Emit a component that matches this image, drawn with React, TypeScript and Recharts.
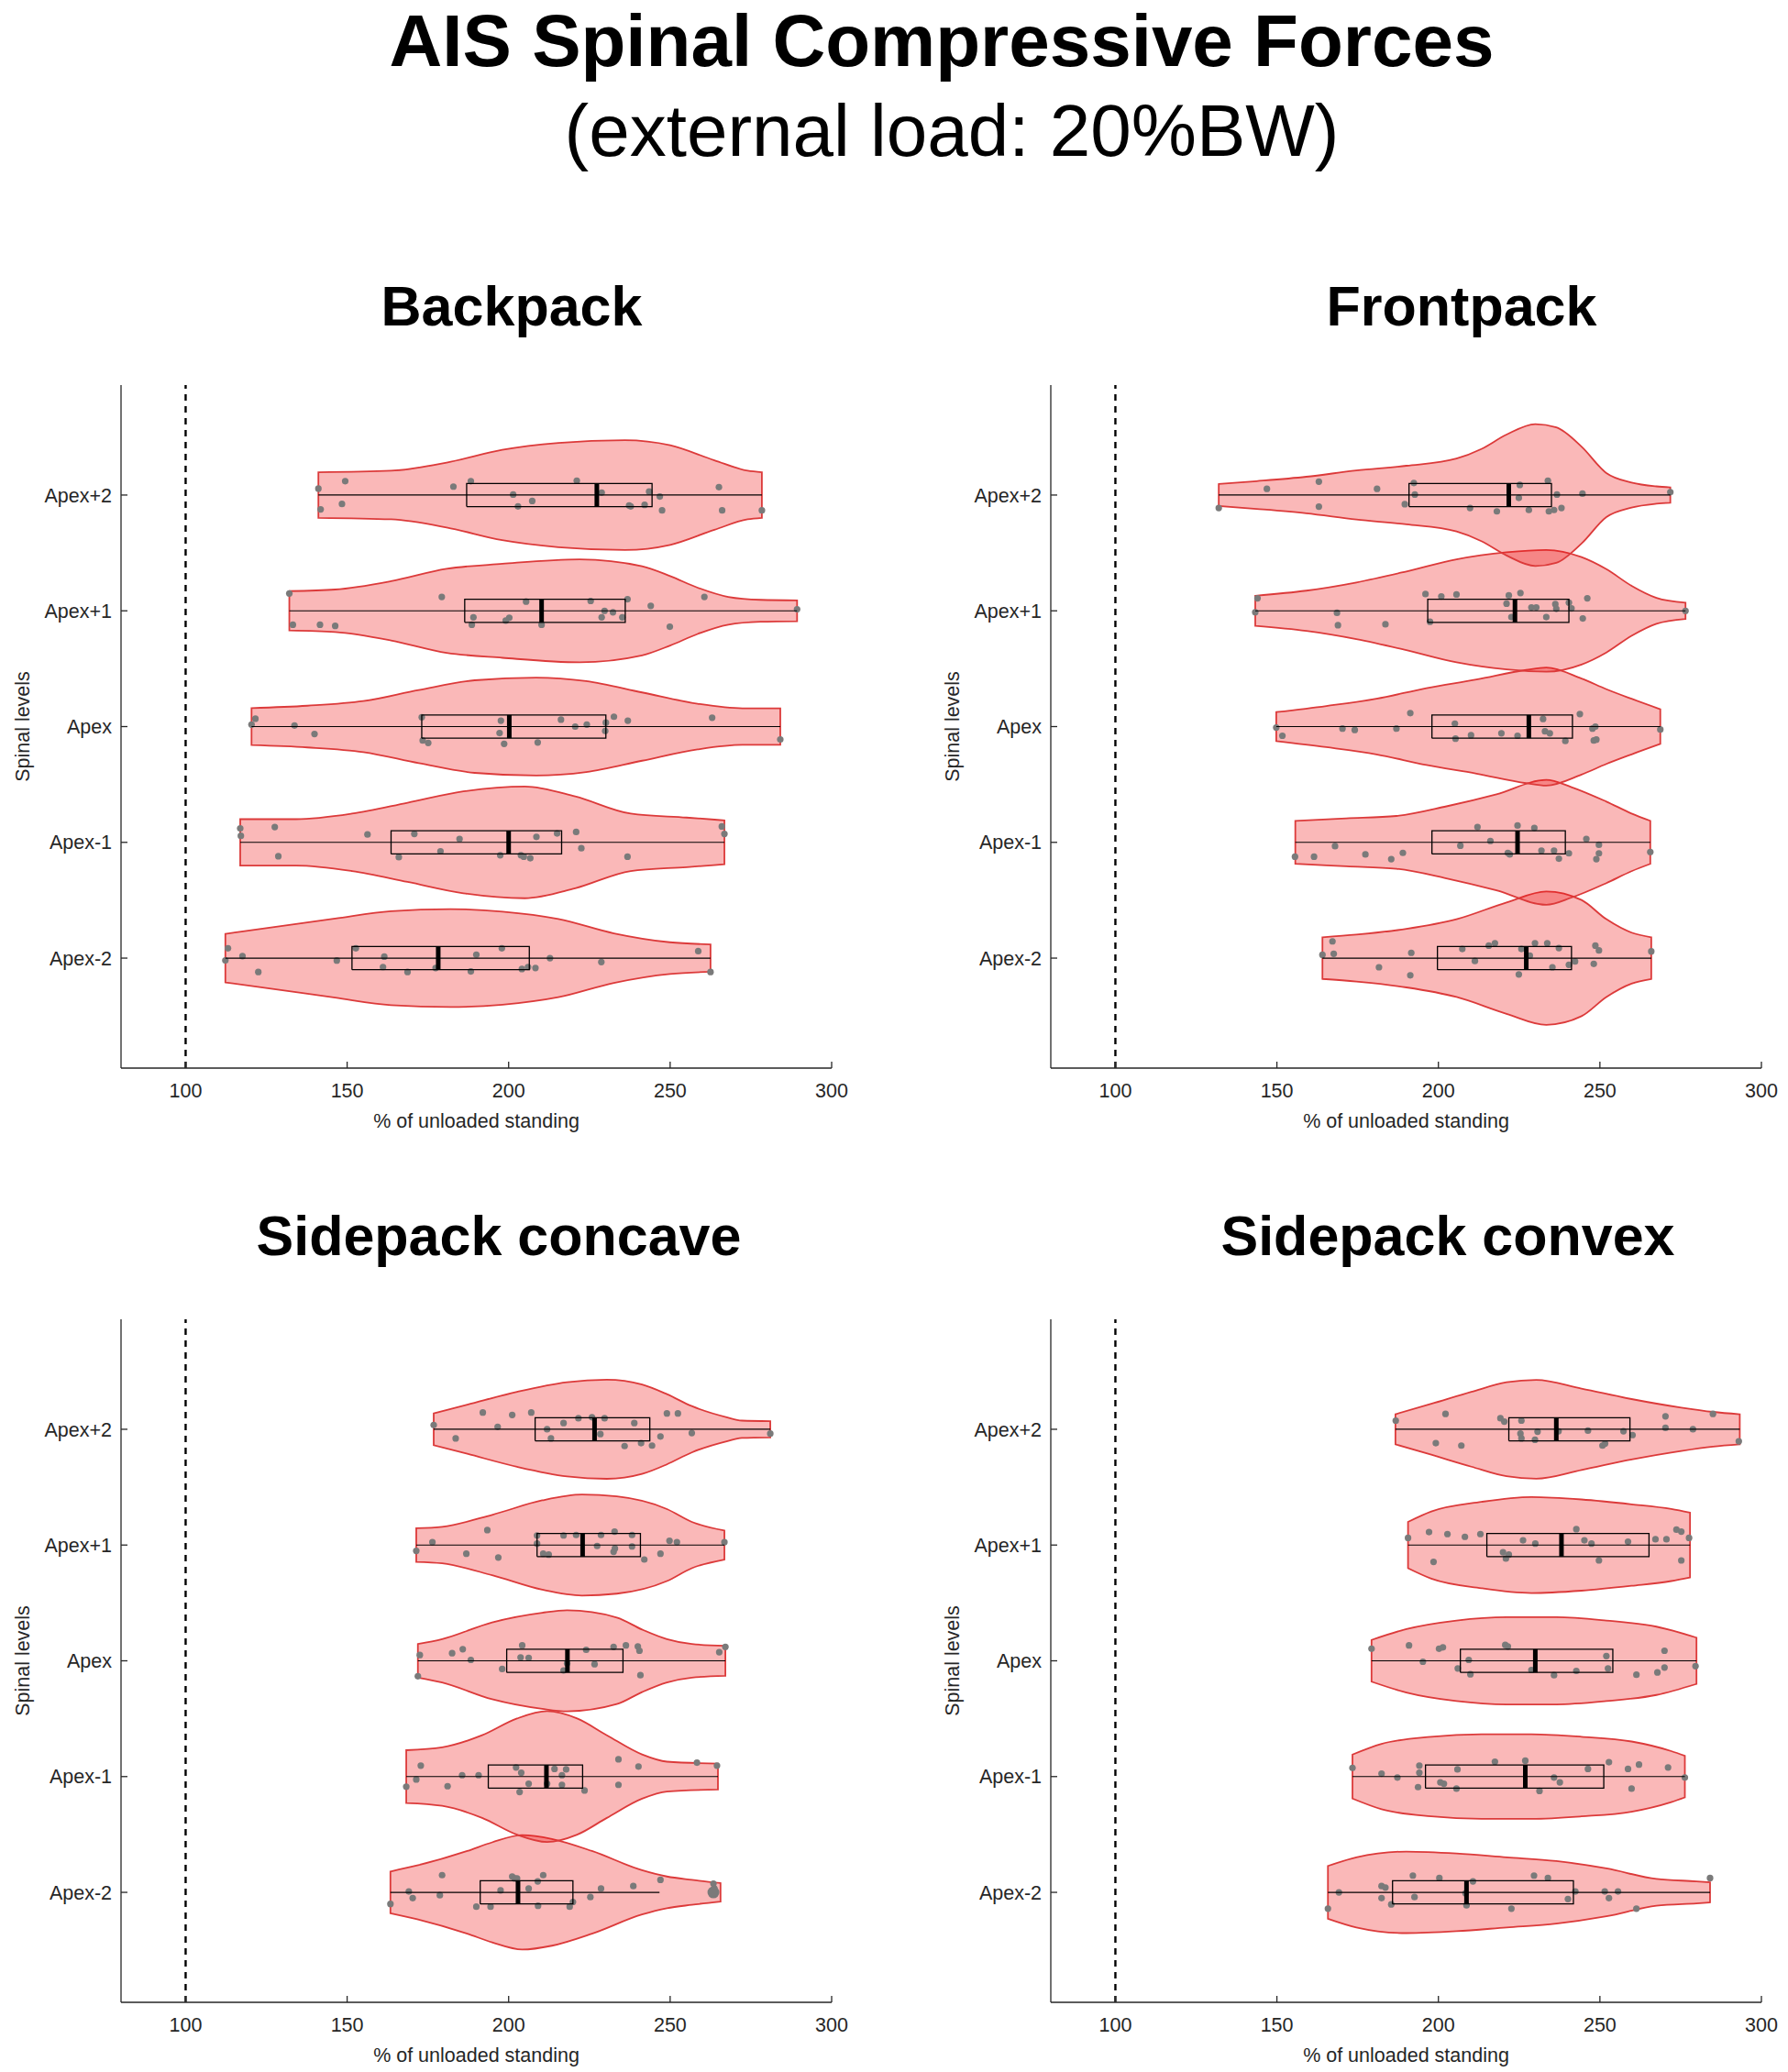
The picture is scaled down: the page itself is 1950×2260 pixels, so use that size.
import React from 'react';
import { ScatterChart, Scatter, XAxis, YAxis, ReferenceLine, Curve } from 'recharts';

// ---------- labels ----------
const LEVELS = ['Apex-2', 'Apex-1', 'Apex', 'Apex+1', 'Apex+2'];
const X_TICKS = [100, 150, 200, 250, 300];
const Y_TICKS = [1, 2, 3, 4, 5];
const MAIN_TITLE = 'AIS Spinal Compressive Forces';
const SUB_TITLE = '(external load: 20%BW)';
const PANEL_TITLES = ['Backpack', 'Frontpack', 'Sidepack concave', 'Sidepack convex'];
const X_LABEL = '% of unloaded standing';
const Y_LABEL = 'Spinal levels';

// ---------- Backpack ----------
// violin outlines: [value, half-width] per level (Apex-2 .. Apex+2)
const backpackOutlines = [
  [[112.3, 0.21], [129, 0.274], [146.3, 0.342], [163.6, 0.406], [182, 0.423], [198.1, 0.402], [215.4, 0.338], [232.6, 0.214], [249.9, 0.137], [262.5, 0.118]],
  [[116.9, 0.2], [134.2, 0.2], [151.5, 0.248], [168.7, 0.342], [186, 0.44], [205, 0.483], [220.6, 0.397], [237.8, 0.248], [255.1, 0.214], [266.8, 0.19]],
  [[120.4, 0.16], [137.7, 0.18], [155, 0.22], [172.2, 0.316], [189.5, 0.4], [208.5, 0.423], [224, 0.393], [241.3, 0.295], [258.5, 0.197], [272.4, 0.158], [284.1, 0.158]],
  [[132.1, 0.17], [146.3, 0.184], [163.6, 0.256], [180.8, 0.363], [198.1, 0.406], [222, 0.445], [241.3, 0.385], [250, 0.3], [258.5, 0.2], [268, 0.12], [278, 0.095], [289.3, 0.09]],
  [[141.1, 0.197], [163.6, 0.21], [180.8, 0.28], [198, 0.39], [215.4, 0.45], [236, 0.474], [250, 0.43], [263.7, 0.3], [274, 0.21], [278.4, 0.197]],
];
// boxes: [q1, median, q3, whiskerLow, whiskerHigh]
const backpackBoxes = [
  [151.5, 178.2, 206.4, 112.3, 262.5],
  [163.6, 200.0, 216.4, 116.9, 266.8],
  [173.1, 200.2, 230.1, 120.4, 284.1],
  [186.4, 210.2, 236.1, 132.1, 289.3],
  [187.0, 227.3, 244.4, 141.1, 278.4],
];
// dots: [value, jitter]
const backpackDots = [
  [[112.3, -0.02], [113.1, 0.085], [117.6, 0.017], [122.5, -0.12], [146.8, -0.021], [152.7, 0.085], [161.5, 0.013], [161.1, -0.077], [168.7, -0.12], [177.4, -0.085], [188.3, -0.115], [190.0, 0.03], [197.9, 0.085], [204.1, -0.094], [206.0, -0.077], [208.3, -0.085], [212.8, 0], [228.7, -0.034], [258.7, 0.06], [262.5, -0.12]],
  [[116.9, 0.12], [117.1, 0.056], [127.6, 0.132], [128.7, -0.12], [156.3, 0.068], [170.8, 0.073], [166.0, -0.128], [178.9, -0.077], [184.8, 0.03], [197.4, -0.111], [203.8, -0.111], [204.7, -0.124], [206.7, -0.137], [208.6, 0.047], [215.0, 0.077], [220.9, 0.09], [222.5, -0.051], [236.8, -0.124], [266.0, 0.137], [266.8, 0.073]],
  [[120.4, 0.017], [121.6, 0.068], [133.7, 0.009], [139.9, -0.064], [173.1, 0.081], [173.4, -0.12], [175.1, -0.141], [197.6, 0.051], [197.2, -0.056], [198.6, -0.149], [209.0, -0.137], [216.2, 0.06], [220.6, 0], [224.2, 0.017], [230.1, 0.034], [229.9, -0.038], [232.6, 0.085], [236.9, 0.051], [263.0, 0.077], [284.1, -0.111]],
  [[132.1, 0.15], [133.2, -0.12], [141.6, -0.12], [146.3, -0.13], [179.3, 0.12], [189.1, -0.056], [188.6, -0.12], [199.1, -0.085], [200.2, -0.06], [205.4, 0.08], [210.2, -0.12], [225.4, 0.085], [228.8, -0.056], [229.7, 0], [232.3, -0.013], [235.2, -0.056], [236.8, 0.1], [244.0, 0.043], [249.9, -0.137], [260.6, 0.12], [289.3, 0.013]],
  [[141.1, 0.056], [141.8, -0.124], [148.4, -0.077], [149.4, 0.12], [182.9, 0.073], [188.3, 0.12], [201.4, 0.004], [202.9, -0.098], [207.3, -0.051], [221.1, 0.124], [228.8, 0.021], [237.3, -0.09], [237.8, -0.098], [242.1, -0.085], [243.5, 0.03], [246.8, -0.013], [247.5, -0.132], [265.1, 0.068], [266.1, -0.132], [278.4, -0.132]],
];

// ---------- Frontpack ----------
const frontpackOutlines = [
  [[164.1, 0.18], [174.6, 0.203], [190.1, 0.253], [205.6, 0.336], [221.1, 0.481], [233.4, 0.576], [244.3, 0.502], [252, 0.336], [259.8, 0.22], [265.9, 0.18]],
  [[155.7, 0.186], [171.5, 0.207], [187, 0.228], [202.5, 0.311], [218, 0.415], [233.4, 0.539], [241.2, 0.477], [252, 0.352], [259.8, 0.249], [265.6, 0.186]],
  [[149.8, 0.125], [165.3, 0.178], [180.8, 0.24], [196.3, 0.332], [211.8, 0.406], [227.2, 0.489], [233.4, 0.51], [244.3, 0.415], [252, 0.323], [259.8, 0.24], [268.7, 0.15]],
  [[143.3, 0.13], [159.1, 0.174], [174.6, 0.245], [190.1, 0.34], [205.6, 0.445], [221.1, 0.506], [233.4, 0.526], [244.3, 0.464], [252, 0.36], [259.8, 0.216], [267.5, 0.112], [276.5, 0.07]],
  [[132, 0.095], [143.7, 0.12], [159.1, 0.158], [174.6, 0.212], [190.1, 0.253], [205.6, 0.315], [213.3, 0.398], [221.1, 0.522], [230, 0.613], [236.5, 0.585], [244.3, 0.419], [252, 0.19], [259.8, 0.108], [267.5, 0.075], [271.8, 0.066]],
];
const frontpackBoxes = [
  [199.7, 227.2, 241.2, 164.1, 265.9],
  [198.0, 224.5, 239.3, 155.7, 265.6],
  [198.0, 228.0, 241.5, 149.8, 268.7],
  [196.7, 223.7, 240.4, 143.3, 276.5],
  [190.9, 221.8, 235.0, 132.0, 271.8],
];
const frontpackDots = [
  [[167.2, 0.145], [167.6, 0.037], [164.1, 0.029], [181.6, -0.079], [191.6, 0.046], [191.3, -0.149], [207.4, 0.079], [211.3, -0.025], [215.6, 0.108], [217.5, 0.129], [225.7, 0.079], [224.9, -0.141], [228.3, 0.021], [229.9, 0.129], [233.7, 0.129], [235.3, -0.079], [237.3, 0.087], [240.4, -0.058], [242.3, -0.029], [248.6, 0.108], [249.7, 0.066], [248.1, -0.05], [265.9, 0.058]],
  [[155.6, -0.124], [161.5, -0.124], [168.0, -0.033], [177.4, -0.104], [185.4, -0.145], [189.0, -0.091], [206.8, -0.029], [212.1, 0.133], [216.1, 0.012], [221.5, -0.091], [222.1, -0.104], [224.5, 0.145], [229.7, 0.124], [231.9, -0.071], [235.8, -0.071], [237.3, -0.141], [240.4, -0.095], [245.8, 0.029], [249.7, -0.021], [249.7, -0.095], [248.9, -0.145], [265.6, -0.083]],
  [[149.8, -0.008], [151.7, -0.079], [170.3, -0.017], [174.1, -0.029], [187.0, -0.017], [191.3, 0.116], [205.1, 0.025], [205.3, -0.104], [210.1, -0.075], [219.5, -0.058], [224.5, -0.079], [232.4, 0.066], [233.0, -0.041], [234.5, -0.058], [239.3, -0.124], [243.8, 0.108], [247.7, -0.017], [248.6, 0], [248.1, -0.12], [248.9, -0.112], [268.7, -0.025]],
  [[144.0, 0.108], [143.3, -0.012], [168.6, -0.017], [168.9, -0.124], [183.6, -0.116], [196.0, 0.145], [197.4, -0.095], [200.9, 0.124], [205.6, 0.141], [221.8, 0.133], [221.1, 0.062], [222.6, -0.054], [225.4, 0.154], [228.8, 0.029], [230.3, 0.029], [233.4, -0.054], [236.2, 0.058], [236.5, 0.017], [240.4, 0.071], [241.2, 0.021], [246.1, 0.108], [244.7, -0.066], [276.5, 0]],
  [[132.0, -0.112], [146.9, 0.054], [163.0, 0.116], [163.0, -0.1], [181.0, 0.054], [189.6, -0.079], [192.4, 0.104], [192.7, 0.004], [209.8, -0.112], [218.1, -0.141], [225.2, 0.087], [224.9, -0.025], [228.0, -0.129], [233.9, 0.124], [234.2, -0.141], [235.8, -0.129], [236.7, 0.004], [238.1, -0.112], [244.6, 0.012], [271.8, 0.025]],
];

// ---------- Sidepack concave ----------
const concaveOutlines = [
  [[163.4, 0.18], [171.7, 0.232], [187.2, 0.357], [194.9, 0.432], [204.2, 0.494], [213.4, 0.461], [225.8, 0.357], [241.3, 0.191], [249, 0.137], [256.7, 0.108], [265.6, 0.08]],
  [[168.3, 0.228], [179.4, 0.253], [191.8, 0.357], [202.6, 0.502], [211.9, 0.565], [221.2, 0.502], [230.4, 0.357], [241.3, 0.191], [249, 0.129], [264.8, 0.112]],
  [[171.9, 0.145], [179.4, 0.187], [194.9, 0.332], [210.4, 0.415], [218.1, 0.436], [233.5, 0.374], [241.3, 0.27], [249, 0.187], [256.7, 0.145], [267.1, 0.13]],
  [[171.4, 0.145], [179.4, 0.158], [194.9, 0.261], [210.4, 0.386], [222.7, 0.436], [233.5, 0.42], [249, 0.311], [256.7, 0.2], [266.8, 0.125]],
  [[176.8, 0.137], [187.2, 0.212], [202.6, 0.324], [218.1, 0.407], [230.4, 0.428], [241.3, 0.386], [249, 0.303], [256.7, 0.2], [267.5, 0.104], [272.2, 0.075], [281, 0.07]],
];
const concaveBoxes = [
  [191.2, 202.9, 219.9, 163.4, 246.7],
  [193.7, 211.7, 222.9, 168.3, 264.8],
  [199.4, 218.2, 235.4, 171.9, 267.1],
  [208.8, 222.9, 240.8, 171.4, 266.8],
  [208.2, 226.6, 243.7, 176.8, 281.0],
];
const concaveDots = [
  [[163.4, -0.1], [169.1, 0.008], [170.3, -0.05], [178.7, -0.025], [179.4, 0.149], [190.0, -0.124], [194.4, -0.124], [197.5, 0.017], [201.1, 0.137], [201.9, 0.12], [202.6, 0.12], [206.2, 0.033], [209.0, 0.095], [209.1, -0.116], [210.7, 0.149], [218.9, -0.124], [219.9, -0.083], [225.3, -0.041], [228.6, 0.033], [238.6, 0.054], [247.0, 0.108], [263.4, 0.075], [263.7, 0.033]],
  [[168.3, -0.087], [171.4, -0.025], [172.8, 0.095], [181.1, -0.083], [185.6, 0.012], [190.7, 0.012], [202.3, 0.079], [203.4, -0.133], [203.9, 0.033], [206.2, -0.062], [211.9, -0.062], [214.2, 0.066], [216.5, 0.012], [217.8, 0.062], [216.5, -0.071], [223.5, -0.12], [234.0, 0.149], [234.0, -0.071], [240.2, 0.087], [258.3, 0.12], [264.5, 0.095]],
  [[171.9, -0.133], [172.5, 0.05], [182.5, 0.066], [185.8, 0.1], [188.3, 0.008], [198.0, -0.071], [203.7, 0.029], [204.2, 0.133], [206.2, 0.025], [217.0, -0.083], [218.1, -0.021], [224.0, 0.095], [226.6, -0.029], [232.5, 0.12], [236.3, 0.133], [240.0, 0.124], [240.5, 0.087], [240.8, -0.124], [265.2, 0.075], [267.1, 0.12]],
  [[171.4, -0.05], [176.4, 0.025], [186.9, -0.075], [193.4, 0.129], [196.8, -0.108], [208.8, 0.083], [208.8, 0.012], [210.7, -0.075], [212.4, -0.083], [217.0, 0.083], [220.9, 0.087], [227.4, -0.008], [228.6, 0.087], [232.5, -0.058], [232.9, -0.029], [232.8, 0.116], [238.2, -0.012], [238.2, 0.087], [242.0, -0.125], [247.0, -0.075], [249.8, 0.037], [252.1, 0.025], [266.8, 0.025]],
  [[176.8, 0.037], [183.6, -0.079], [192.0, 0.145], [196.6, 0.021], [201.1, 0.124], [207.0, 0.145], [211.9, 0], [213.1, -0.079], [217.0, 0.054], [221.6, 0.095], [225.8, 0.104], [228.4, -0.041], [229.7, 0.095], [235.9, -0.145], [238.9, 0.054], [241.0, -0.12], [244.4, -0.141], [247.0, -0.062], [249.0, 0.137], [252.4, 0.137], [256.7, -0.033], [281.0, -0.037]],
];
// outlier marker (level index, value, jitter)
const concaveOutliers = [[0, 263.4, 0]];

// ---------- Sidepack convex ----------
const convexOutlines = [
  [[165.8, 0.228], [174.6, 0.303], [190.1, 0.352], [205.6, 0.336], [221.1, 0.303], [236.5, 0.27], [252, 0.207], [267.5, 0.116], [279.9, 0.095], [284.1, 0.087]],
  [[173.4, 0.19], [182.4, 0.282], [197.8, 0.344], [213.3, 0.365], [228.8, 0.365], [244.3, 0.344], [259.8, 0.303], [272.1, 0.22], [276.3, 0.18]],
  [[179.3, 0.18], [190.1, 0.274], [205.6, 0.348], [221.1, 0.377], [236.5, 0.377], [252, 0.348], [267.5, 0.295], [279.9, 0.2]],
  [[190.6, 0.2], [197.8, 0.29], [213.3, 0.373], [228.8, 0.415], [244.3, 0.394], [259.8, 0.352], [272.1, 0.311], [277.9, 0.28]],
  [[186.7, 0.13], [197.8, 0.22], [210.2, 0.323], [221.1, 0.406], [230.3, 0.427], [244.3, 0.352], [259.8, 0.261], [275.2, 0.187], [285, 0.15], [293.3, 0.13]],
];
const convexBoxes = [
  [185.8, 208.7, 241.8, 165.8, 284.1],
  [196.0, 226.9, 251.2, 173.4, 276.3],
  [206.8, 230.0, 254.0, 179.3, 279.9],
  [215.0, 238.1, 265.2, 190.6, 277.9],
  [221.8, 236.5, 259.3, 186.7, 293.3],
];
const convexDots = [
  [[165.8, -0.141], [169.2, 0], [182.4, 0.054], [183.6, 0.041], [182.4, -0.05], [185.4, -0.104], [192.1, 0.145], [192.6, -0.041], [200.3, 0.124], [208.4, -0.008], [208.7, -0.112], [210.7, 0.095], [222.6, -0.141], [229.6, 0.145], [233.9, 0.124], [240.1, -0.058], [242.4, 0.008], [251.5, 0.008], [252.8, -0.05], [255.6, 0.008], [261.3, -0.141], [284.1, 0.124]],
  [[173.4, 0.075], [182.4, 0.025], [187.3, -0.008], [194.1, 0.095], [194.1, 0.033], [193.7, -0.091], [200.6, -0.05], [201.7, -0.062], [205.6, -0.104], [205.9, 0.062], [217.5, 0.129], [226.9, 0.137], [231.3, -0.124], [235.8, -0.008], [237.6, -0.05], [246.3, 0.066], [252.8, 0.124], [258.7, 0.066], [259.8, -0.104], [262.1, 0.104], [271.1, 0.079], [276.3, -0.008]],
  [[179.3, 0.104], [190.9, 0.133], [195.2, -0.008], [200.2, 0.104], [201.4, 0.116], [209.4, 0.008], [206.0, -0.066], [209.9, -0.116], [220.7, 0.137], [221.5, 0.124], [228.8, -0.079], [235.8, -0.124], [242.7, -0.087], [252.0, 0.041], [252.5, -0.066], [261.3, -0.12], [267.8, -0.1], [270.0, -0.058], [270.0, 0.087], [279.6, -0.046]],
  [[190.6, 0.062], [197.1, 0.112], [198.5, -0.145], [202.8, 0.095], [208.2, 0.071], [213.0, 0.095], [220.0, -0.062], [220.9, -0.116], [221.8, -0.083], [226.2, 0.041], [230.0, 0.012], [242.7, 0.137], [245.2, 0.041], [247.4, 0.012], [249.7, -0.133], [258.7, 0.029], [267.2, 0.05], [270.6, 0.05], [273.7, 0.133], [275.2, 0.116], [275.2, -0.133], [277.6, 0.062]],
  [[186.8, 0.075], [199.2, -0.12], [202.2, 0.133], [207.1, -0.141], [219.2, 0.095], [220.4, 0.066], [225.7, 0.075], [225.4, -0.037], [225.7, -0.079], [229.9, -0.091], [230.7, -0.021], [237.2, -0.017], [246.3, -0.012], [250.8, -0.141], [251.6, -0.124], [257.3, -0.017], [260.1, -0.05], [270.3, 0.112], [270.3, 0.012], [278.8, 0], [285.0, 0.133], [293.0, -0.104]],
];

// ---------- styling ----------
const FONT = "'Liberation Sans', Arial, Helvetica, sans-serif";
const AXIS_COLOR = '#262626';
const VIOLIN_FILL = '#ee1414';
const VIOLIN_EDGE = '#dc3a3a';
const DOT_COLOR = '#7a7a7a';
const BOX_HALF = 0.1;
const TICK_FONT = 21.5;

const PLOT_W = 775;
const PLOT_H = 745;
const MT = 20;
const XH = 70;
const Y_W = 132;

const noShape = () => <g />;

const renderViolin = (props: any) => {
  const pts = props.points || [];
  const n = Math.floor(pts.length / 2);
  const upper = pts.slice(0, n);
  const lower = pts.slice(n);
  return (
    <Curve
      type="monotoneX"
      points={upper}
      baseLine={lower}
      fill={VIOLIN_FILL}
      fillOpacity={0.3}
      stroke={VIOLIN_EDGE}
      strokeWidth={1.8}
    />
  );
};

const violinPoints = (pos: number, outline: number[][]) => [
  ...outline.map(([v, w]) => ({ x: v, y: pos + w })),
  ...outline.map(([v, w]) => ({ x: v, y: pos - w })),
];

const dotShape = (r: number) => (p: any) => <circle cx={p.cx} cy={p.cy} r={r} fill={DOT_COLOR} />;

type PanelProps = {
  left: number;
  top: number;
  rightM: number;
  outlines: number[][][];
  boxes: number[][];
  dots: number[][][];
  outliers?: number[][];
};

function Panel({ left, top, rightM, outlines, boxes, dots, outliers }: PanelProps) {
  const W = Y_W + PLOT_W + rightM;
  const H = MT + PLOT_H + XH;
  return (
    <div style={{ position: 'absolute', left, top }}>
      <ScatterChart width={W} height={H} margin={{ top: MT, right: rightM, bottom: 0, left: 0 }}>
        <XAxis
          type="number"
          dataKey="x"
          domain={[80, 300]}
          ticks={X_TICKS}
          interval={0}
          allowDataOverflow
          height={XH}
          tickSize={-7}
          tickMargin={24}
          axisLine={{ stroke: AXIS_COLOR, strokeWidth: 1.3 }}
          tickLine={{ stroke: AXIS_COLOR, strokeWidth: 1.3 }}
          tick={{ fill: AXIS_COLOR, fontSize: TICK_FONT, fontFamily: FONT }}
        />
        <YAxis
          type="number"
          dataKey="y"
          domain={[0.05, 5.95]}
          ticks={Y_TICKS}
          interval={0}
          allowDataOverflow
          width={Y_W}
          tickSize={-7}
          tickMargin={17}
          tickFormatter={(v: number) => LEVELS[Math.round(v) - 1]}
          axisLine={{ stroke: AXIS_COLOR, strokeWidth: 1.3 }}
          tickLine={{ stroke: AXIS_COLOR, strokeWidth: 1.3 }}
          tick={{ fill: AXIS_COLOR, fontSize: TICK_FONT, fontFamily: FONT }}
        />
        <ReferenceLine x={100} stroke="#000" strokeWidth={2.4} strokeDasharray="7 6" ifOverflow="extendDomain" />
        {outlines.map((o, i) => (
          <Scatter
            key={'v' + i}
            data={violinPoints(i + 1, o)}
            shape={noShape}
            line={renderViolin}
            isAnimationActive={false}
          />
        ))}
        {dots.map((d, i) => (
          <Scatter
            key={'d' + i}
            data={d.map(([v, j]) => ({ x: v, y: i + 1 + j }))}
            shape={dotShape(3.6)}
            isAnimationActive={false}
          />
        ))}
        {(outliers || []).map((o, k) => (
          <Scatter
            key={'o' + k}
            data={[{ x: o[1], y: o[0] + 1 + o[2] }]}
            shape={dotShape(6.5)}
            isAnimationActive={false}
          />
        ))}
        {boxes.map((b, i) => (
          <Scatter
            key={'w' + i}
            data={[{ x: b[3], y: i + 1 }, { x: b[4], y: i + 1 }]}
            shape={noShape}
            line={{ stroke: '#000', strokeWidth: 1.2 }}
            isAnimationActive={false}
          />
        ))}
        {boxes.map((b, i) => (
          <Scatter
            key={'b' + i}
            data={[
              { x: b[0], y: i + 1 - BOX_HALF },
              { x: b[2], y: i + 1 - BOX_HALF },
              { x: b[2], y: i + 1 + BOX_HALF },
              { x: b[0], y: i + 1 + BOX_HALF },
              { x: b[0], y: i + 1 - BOX_HALF },
            ]}
            shape={noShape}
            line={{ stroke: '#000', strokeWidth: 1.3 }}
            isAnimationActive={false}
          />
        ))}
        {boxes.map((b, i) => (
          <Scatter
            key={'m' + i}
            data={[{ x: b[1], y: i + 1 - BOX_HALF }, { x: b[1], y: i + 1 + BOX_HALF }]}
            shape={noShape}
            line={{ stroke: '#000', strokeWidth: 5 }}
            isAnimationActive={false}
          />
        ))}
      </ScatterChart>
    </div>
  );
}

const TOP_Y = 400;
const BOT_Y = 1419;
const LEFT_X = 0;
const RIGHT_X = 1014;

export default function App() {
  const plotTopA = TOP_Y + MT;
  const plotTopB = BOT_Y + MT;
  const midA = plotTopA + PLOT_H / 2;
  const midB = plotTopB + PLOT_H / 2;
  const cxL = LEFT_X + Y_W + PLOT_W / 2;
  const cxR = RIGHT_X + Y_W + PLOT_W / 2;
  return (
    <div
      style={{
        position: 'absolute',
        left: 0,
        top: 0,
        width: 1950,
        height: 2260,
        background: '#fff',
        fontFamily: FONT,
        overflow: 'hidden',
      }}
    >
      <Panel left={LEFT_X} top={TOP_Y} rightM={43} outlines={backpackOutlines} boxes={backpackBoxes} dots={backpackDots} />
      <Panel left={RIGHT_X} top={TOP_Y} rightM={29} outlines={frontpackOutlines} boxes={frontpackBoxes} dots={frontpackDots} />
      <Panel left={LEFT_X} top={BOT_Y} rightM={43} outlines={concaveOutlines} boxes={concaveBoxes} dots={concaveDots} outliers={concaveOutliers} />
      <Panel left={RIGHT_X} top={BOT_Y} rightM={29} outlines={convexOutlines} boxes={convexBoxes} dots={convexDots} />
      <svg
        width={1950}
        height={2260}
        style={{ position: 'absolute', left: 0, top: 0, pointerEvents: 'none' }}
      >
        <text x={1027} y={72} textAnchor="middle" fontSize={80} fontWeight="bold" fill="#000" fontFamily={FONT}>
          {MAIN_TITLE}
        </text>
        <text x={1038} y={170} textAnchor="middle" fontSize={80} fill="#000" fontFamily={FONT}>
          {SUB_TITLE}
        </text>
        <text x={558} y={355} textAnchor="middle" fontSize={61} fontWeight="bold" fill="#000" fontFamily={FONT}>
          {PANEL_TITLES[0]}
        </text>
        <text x={1594} y={355} textAnchor="middle" fontSize={61} fontWeight="bold" fill="#000" fontFamily={FONT}>
          {PANEL_TITLES[1]}
        </text>
        <text x={544} y={1369} textAnchor="middle" fontSize={61} fontWeight="bold" fill="#000" fontFamily={FONT}>
          {PANEL_TITLES[2]}
        </text>
        <text x={1579} y={1369} textAnchor="middle" fontSize={61} fontWeight="bold" fill="#000" fontFamily={FONT}>
          {PANEL_TITLES[3]}
        </text>
        {[
          [cxL, plotTopA + PLOT_H + 65],
          [cxR, plotTopA + PLOT_H + 65],
          [cxL, plotTopB + PLOT_H + 65],
          [cxR, plotTopB + PLOT_H + 65],
        ].map(([x, y], i) => (
          <text key={'xl' + i} x={x} y={y} textAnchor="middle" fontSize={21.5} fill={AXIS_COLOR} fontFamily={FONT}>
            {X_LABEL}
          </text>
        ))}
        {[
          [LEFT_X + 31.5, midA],
          [RIGHT_X + 31.5, midA],
          [LEFT_X + 31.5, midB],
          [RIGHT_X + 31.5, midB],
        ].map(([x, y], i) => (
          <text
            key={'yl' + i}
            x={x}
            y={y}
            textAnchor="middle"
            fontSize={21.5}
            fill={AXIS_COLOR}
            fontFamily={FONT}
            transform={`rotate(-90 ${x} ${y})`}
          >
            {Y_LABEL}
          </text>
        ))}
      </svg>
    </div>
  );
}
